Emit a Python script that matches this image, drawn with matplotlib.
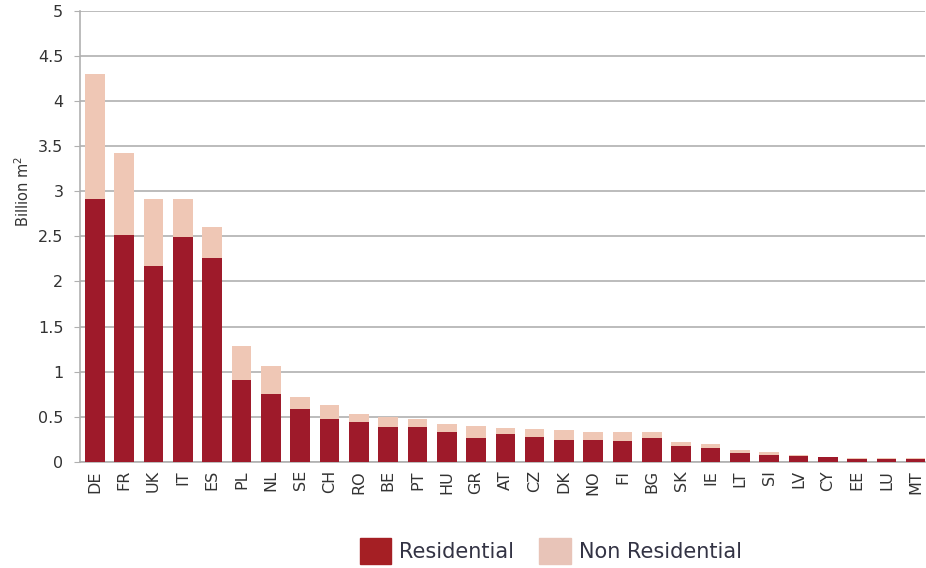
import matplotlib.pyplot as plt
import numpy as np

countries = ['DE', 'FR', 'UK', 'IT', 'ES', 'PL', 'NL', 'SE', 'CH', 'RO',
             'BE', 'PT', 'HU', 'GR', 'AT', 'CZ', 'DK', 'NO', 'FI', 'BG',
             'SK', 'IE', 'LT', 'SI', 'LV', 'CY', 'EE', 'LU', 'MT']
residential = [2.92, 2.52, 2.17, 2.49, 2.26, 0.91, 0.75, 0.58, 0.48, 0.44,
               0.39, 0.39, 0.33, 0.26, 0.31, 0.28, 0.24, 0.24, 0.23, 0.26,
               0.17, 0.15, 0.10, 0.08, 0.065, 0.05, 0.035, 0.035, 0.035]
total = [4.30, 3.42, 2.91, 2.91, 2.60, 1.28, 1.06, 0.72, 0.63, 0.53,
         0.50, 0.47, 0.415, 0.40, 0.38, 0.36, 0.35, 0.33, 0.33, 0.33,
         0.215, 0.20, 0.13, 0.11, 0.075, 0.055, 0.04, 0.04, 0.04]
non_residential = [t - r for t, r in zip(total, residential)]

dark = '#9E1A2A'
light = '#EFC7B5'

fig = plt.figure(figsize=(9.26, 5.68), dpi=100)
ax = fig.add_axes([0.0864, 0.187, 0.912, 0.7936])

x = np.arange(len(countries))
ax.bar(x, residential, width=0.67, color=dark, zorder=3, label='Residential')
ax.bar(x, non_residential, width=0.67, bottom=residential, color=light,
       zorder=3, label='Non Residential')

ax.set_ylim(0, 5)
ax.set_xlim(-0.51, len(countries) - 0.7)
ax.set_yticks(np.arange(0, 5.01, 0.5))
ax.set_yticklabels(['0', '0.5', '1', '1.5', '2', '2.5', '3', '3.5', '4', '4.5', '5'])
ax.yaxis.grid(True, color='#b0b0b0', linewidth=1.2, zorder=0)
ax.tick_params(axis='y', length=4, color='#b0b0b0', labelsize=11.5,
               labelcolor='#333333', pad=8)
ax.set_xticks(x)
ax.set_xticklabels(countries, rotation=90, fontsize=11.5, color='#333333')
ax.tick_params(axis='x', length=0, pad=6)

for s in ['top', 'right']:
    ax.spines[s].set_visible(False)
ax.spines['left'].set_color('#b0b0b0')
ax.spines['left'].set_linewidth(1.2)
ax.spines['bottom'].set_color('#b0b0b0')
ax.spines['bottom'].set_linewidth(1.2)

ax.set_ylabel('Billion m$^2$', fontsize=10.5, color='#333333')
ax.yaxis.set_label_coords(-0.057, 0.6)

fig.legend(handles=[plt.Rectangle((0, 0), 1, 1, color='#A51F24'),
                    plt.Rectangle((0, 0), 1, 1, color='#E8C4B8')],
           labels=['Residential', 'Non Residential'],
           loc='center', bbox_to_anchor=(0.595, 0.03), ncol=2, frameon=False,
           fontsize=15, handlelength=1.5, handleheight=1.5, columnspacing=1.2,
           handletextpad=0.4, labelcolor='#333344')

fig.savefig('out.png', dpi=100)
